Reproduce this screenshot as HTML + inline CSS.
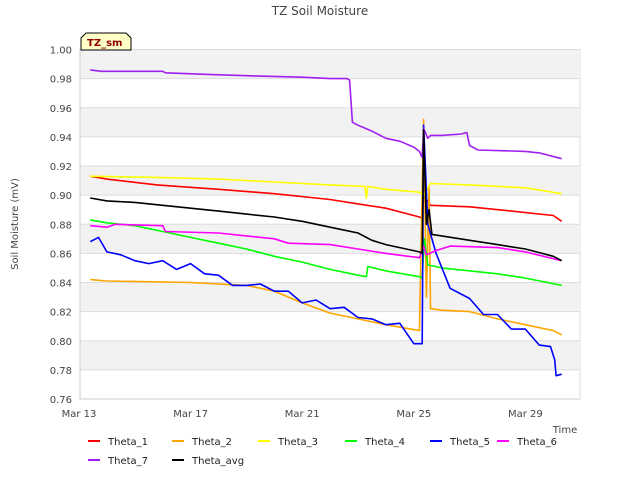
<!DOCTYPE html>
<html><head><meta charset="utf-8"><style>
body{margin:0;background:#fff;}
svg text{font-family:"DejaVu Sans","Liberation Sans",sans-serif;}
</style></head><body>
<svg id="chart" width="640" height="480" xmlns="http://www.w3.org/2000/svg">
<text x="320" y="15" text-anchor="middle" font-size="12" fill="#444">TZ Soil Moisture</text>
<g id="bands"></g>
<g id="axes"></g>
<g id="series" clip-path="url(#clip)"></g>
<defs><clipPath id="clip"><rect x="80" y="49" width="500" height="351"/></clipPath></defs>
<g>
<path d="M81,50 L81,38 L86,33 L126,33 L131,38 L131,50 Z" fill="#ffffc8" stroke="#000" stroke-width="1"/>
<text x="87" y="46" font-size="10" font-weight="bold" fill="#8b0000">TZ_sm</text>
</g>
<text x="18" y="224" transform="rotate(-90 18 224)" text-anchor="middle" font-size="10" fill="#444">Soil Moisture (mV)</text>
<text x="565" y="433" text-anchor="middle" font-size="10" fill="#444">Time</text>
<g id="legend"></g>
</svg>
<script>
const xTickLabels=["Mar 13","Mar 17","Mar 21","Mar 25","Mar 29"];
const xTickDays=[0,4,8,12,16];
const yTicks=[0.76,0.78,0.80,0.82,0.84,0.86,0.88,0.90,0.92,0.94,0.96,0.98,1.00];
const seriesNames=["Theta_1","Theta_2","Theta_3","Theta_4","Theta_5","Theta_6","Theta_7","Theta_avg"];
const seriesColors=["#ff0000","#ffa500","#ffff00","#00ff00","#0000ff","#ff00ff","#a020f0","#000000"];
const theta1=[[0.4,0.913],[1,0.911],[2.8,0.907],[5,0.904],[7,0.901],[9,0.897],[10,0.894],[11,0.891],[12.2,0.885],[12.3,0.884],[12.35,0.90],[12.6,0.893],[14,0.892],[15.5,0.889],[17,0.886],[17.3,0.882]];
const theta2=[[0.4,0.842],[1,0.841],[4,0.840],[6,0.838],[7,0.834],[8,0.826],[9,0.819],[10,0.815],[11,0.811],[12.2,0.807],[12.35,0.952],[12.45,0.83],[12.55,0.905],[12.6,0.822],[13,0.821],[14,0.820],[15,0.815],[16,0.811],[17,0.807],[17.3,0.804]];
const theta3=[[0.4,0.913],[3,0.912],[5,0.911],[7,0.909],[9,0.907],[10.25,0.906],[10.3,0.898],[10.35,0.906],[11,0.904],[12.2,0.902],[12.35,0.90],[12.6,0.908],[14,0.907],[16,0.905],[17.3,0.901]];
const theta4=[[0.4,0.883],[1,0.881],[2,0.879],[3,0.875],[4,0.871],[5,0.867],[6,0.863],[7,0.858],[8,0.854],[9,0.849],[10,0.845],[10.3,0.844],[10.35,0.851],[11,0.848],[12.2,0.844],[12.3,0.843],[12.38,0.87],[12.5,0.852],[13,0.850],[15,0.846],[16,0.843],[17.3,0.838]];
const theta5=[[0.4,0.868],[0.7,0.871],[1,0.861],[1.5,0.859],[2,0.855],[2.5,0.853],[3,0.855],[3.5,0.849],[4,0.853],[4.5,0.846],[5,0.845],[5.5,0.838],[6,0.838],[6.5,0.839],[7,0.834],[7.5,0.834],[8,0.826],[8.5,0.828],[9,0.822],[9.5,0.823],[10,0.816],[10.5,0.815],[11,0.811],[11.5,0.812],[12,0.798],[12.3,0.798],[12.35,0.948],[12.5,0.880],[12.8,0.860],[13.3,0.836],[14,0.829],[14.5,0.818],[15,0.818],[15.5,0.808],[16,0.808],[16.5,0.797],[16.9,0.796],[17.05,0.787],[17.1,0.776],[17.3,0.777]];
const theta6=[[0.4,0.879],[1,0.878],[1.3,0.880],[3,0.879],[3.1,0.875],[5,0.874],[6,0.872],[7,0.870],[7.5,0.867],[9,0.866],[10,0.863],[11,0.860],[12.2,0.857],[12.35,0.865],[12.45,0.859],[12.8,0.862],[13.3,0.865],[15,0.864],[16,0.861],[17.3,0.855]];
const theta7=[[0.4,0.986],[0.8,0.985],[3,0.985],[3.1,0.984],[4.5,0.983],[6,0.982],[8,0.981],[9,0.980],[9.6,0.980],[9.7,0.979],[9.8,0.950],[10,0.948],[10.5,0.944],[11,0.939],[11.5,0.937],[12,0.933],[12.2,0.930],[12.3,0.926],[12.35,0.946],[12.5,0.939],[12.6,0.941],[13,0.941],[13.7,0.942],[13.9,0.943],[14.0,0.934],[14.3,0.931],[16,0.930],[16.5,0.929],[17.3,0.925]];
const thetaAvg=[[0.4,0.898],[1,0.896],[2,0.895],[3,0.893],[4,0.891],[5,0.889],[6,0.887],[7,0.885],[8,0.882],[9,0.878],[10,0.874],[10.5,0.869],[11,0.866],[12.2,0.861],[12.3,0.860],[12.35,0.945],[12.45,0.88],[12.55,0.89],[12.65,0.873],[13,0.872],[14,0.869],[15,0.866],[16,0.863],[17,0.858],[17.3,0.855]];
const seriesData=[theta1,theta2,theta3,theta4,theta5,theta6,theta7,thetaAvg];

const NS="http://www.w3.org/2000/svg";
const X0=80,X1=580,Y0=49.5,Y1=399;
function xs(d){return 79+d*27.9;}
function ys(v){return Y1-(v-0.76)/(0.24)*(Y1-Y0);}
function mk(tag,attrs,parent){const e=document.createElementNS(NS,tag);for(const k in attrs)e.setAttribute(k,attrs[k]);parent.appendChild(e);return e;}
const bands=document.getElementById('bands');
const bg=mk('rect',{x:X0,y:Y0,width:X1-X0,height:Y1-Y0,fill:'#fff',stroke:'#ddd'},bands);


for(let i=0;i<yTicks.length-1;i++){
  if((yTicks.length-2-i)%2===0){
    const r=mk('rect',{x:X0,y:ys(yTicks[i+1]),width:X1-X0,height:ys(yTicks[i])-ys(yTicks[i+1]),fill:'#f2f2f2'},bands);
    
    
  }
}
const axes=document.getElementById('axes');
yTicks.forEach(v=>{
  const l=mk('line',{x1:X0,x2:X1,y1:ys(v),y2:ys(v),stroke:'#ddd'},axes);
  
  
  const t=mk('text',{x:X0-8,y:ys(v)+4,'text-anchor':'end','font-size':'10',fill:'#444'},axes);
  t.textContent=v.toFixed(2);
  
  
});
xTickDays.forEach((d,i)=>{
  const t=mk('text',{x:xs(d),y:Y1+18,'text-anchor':'middle','font-size':'10',fill:'#444'},axes);
  t.textContent=xTickLabels[i];
  
  
});
mk('line',{x1:X0,x2:X0,y1:Y0,y2:Y1,stroke:'#ccc'},axes);
mk('line',{x1:X0,x2:X1,y1:Y1,y2:Y1,stroke:'#ccc'},axes);
const sg=document.getElementById('series');
seriesData.forEach((data,i)=>{
  let d='';
  data.forEach((p,j)=>{
    d+=(j===0?'M':'L')+xs(p[0]).toFixed(1)+','+ys(p[1]).toFixed(1);
  });
  const p=mk('path',{d:d,fill:'none',stroke:seriesColors[i],'stroke-width':'1.6','stroke-linejoin':'round'},sg);
  
  
});
const lg=document.getElementById('legend');
const lpos=[[88,441],[172,441],[258,441],[345,441],[430,441],[497,441],[88,460],[172,460]];
seriesNames.forEach((n,i)=>{
  const g=mk('g',{},lg);
  
  
  const [x,y]=lpos[i];
  mk('line',{x1:x,x2:x+12,y1:y,y2:y,stroke:seriesColors[i],'stroke-width':'2'},g);
  const t=mk('text',{x:x+20,y:y+4,'font-size':'10',fill:'#222'},g);
  t.textContent=n;
});
</script>
</body></html>
